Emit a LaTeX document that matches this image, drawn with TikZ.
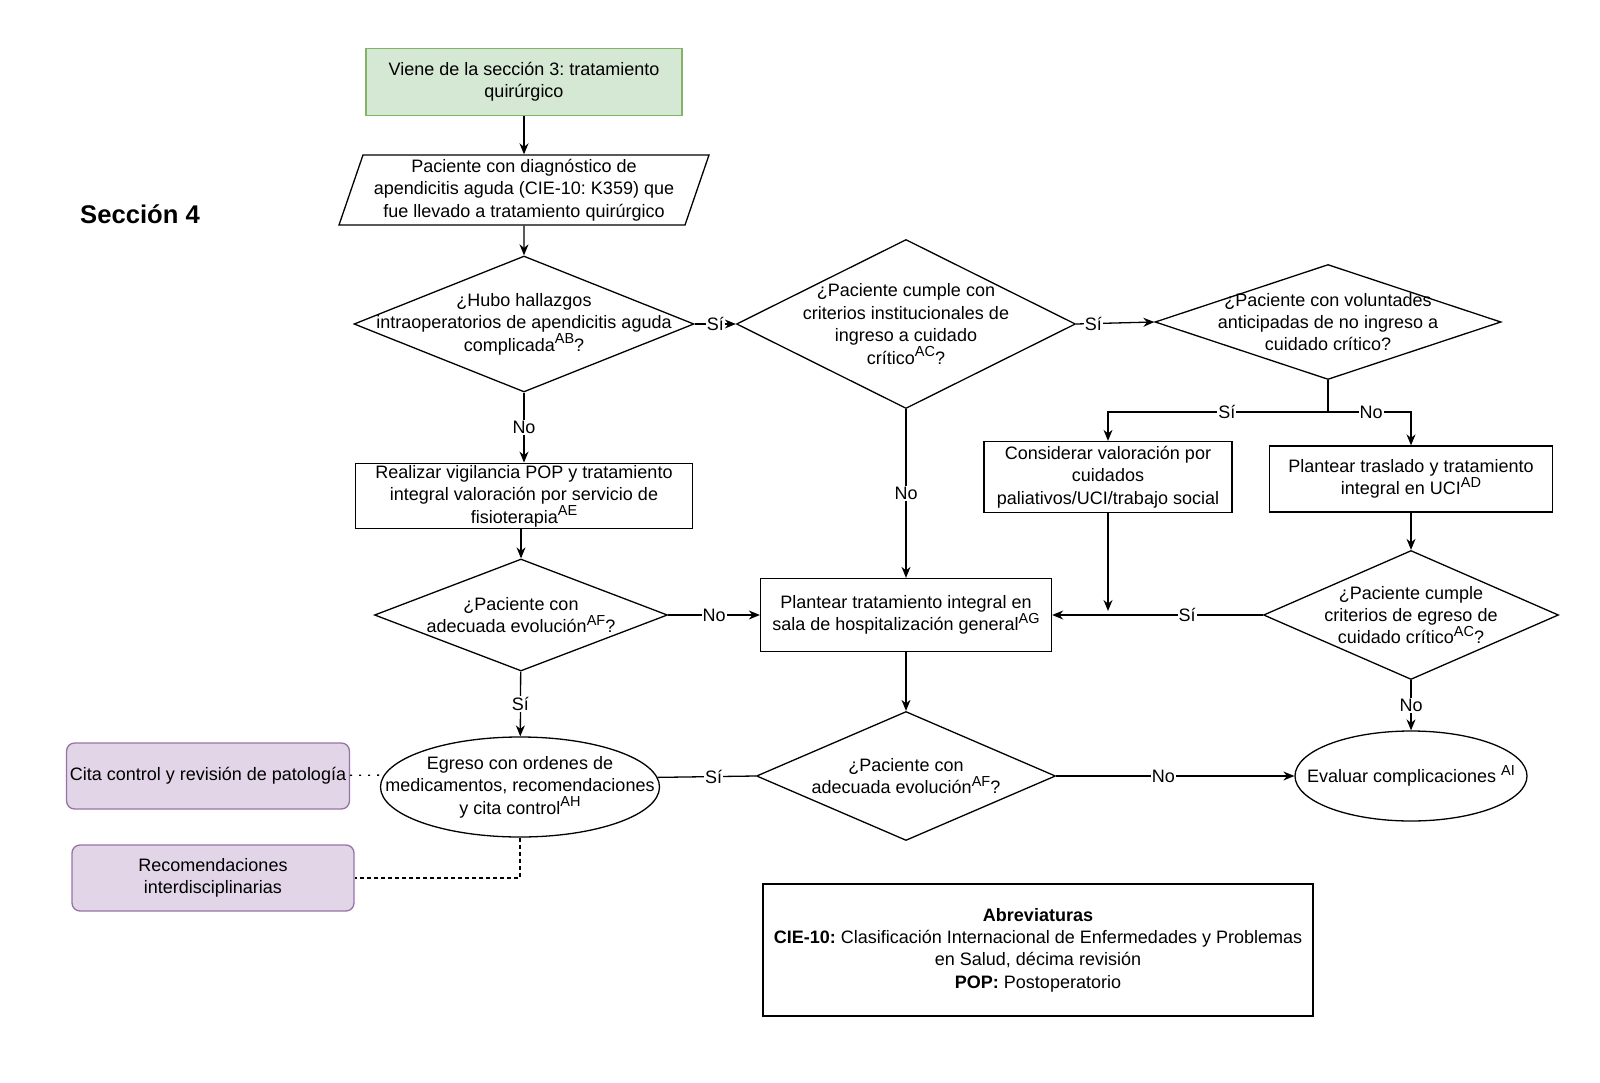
\documentclass[tikz,border=0pt]{standalone}
\usepackage{fontspec}
\setmainfont{Liberation Sans}
\usetikzlibrary{arrows.meta,positioning,shapes.geometric,calc}
\definecolor{verdeF}{HTML}{D5E8D4}
\definecolor{verdeL}{HTML}{82B366}
\definecolor{moradoF}{HTML}{E1D5E7}
\definecolor{moradoL}{HTML}{9673A6}
\newcommand{\supi}[1]{\raisebox{0.42em}{\fontsize{14.5}{14.5}\selectfont #1}}
\frenchspacing

\begin{document}
\begin{tikzpicture}[x=1pt, y=-1pt,
  font=\fontsize{18}{22.4}\selectfont,
  line width=1.3pt,
  obj/.style={draw, align=center, inner sep=2pt},
  dec/.style={draw, diamond, inner sep=0pt, label={[align=center]center:#1}},
  ovl/.style={draw, ellipse, inner sep=0pt, label={[align=center]center:#1}},
  nota/.style={draw=moradoL, fill=moradoF, rounded corners=8pt, align=center, minimum width=282, minimum height=66},
  arr/.style={-{Stealth[length=11pt, width=9pt]}},
  lab/.style={fill=white, inner sep=1pt}]
\useasboundingbox (0,0) rectangle (1600,1083);
% Inicio
\node[obj, fill=verdeF, draw=verdeL, minimum width=316, minimum height=67] (inicio) at (524,82) {Viene de la sección 3: tratamiento\\quirúrgico};
\node[obj, trapezium, trapezium left angle=71, trapezium right angle=109, trapezium stretches=true, minimum width=371, minimum height=70] (pac) at (524,190) {Paciente con diagnóstico de\\apendicitis aguda (CIE-10: K359) que\\fue llevado a tratamiento quirúrgico};
\node[font=\bfseries\fontsize{25.6}{30}\selectfont] (titulo) at (140,214) {Sección 4};
% Decisiones superiores
\node[dec={¿Hubo hallazgos\\intraoperatorios de apendicitis aguda\\complicada\supi{AB}?}, minimum width=340, minimum height=136] (q1) at (524,324) {};
\node[dec={¿Paciente cumple con\\criterios institucionales de\\ingreso a cuidado\\crítico\supi{AC}?}, minimum width=339, minimum height=169] (q2) at (906,324) {};
\node[dec={¿Paciente con voluntades\\anticipadas de no ingreso a\\cuidado crítico?}, minimum width=346, minimum height=115] (q3) at (1328,322) {};
% Ramas
\coordinate (cruce) at (1328,412);
\node[obj, minimum width=248, minimum height=71] (valor) at (1108,477) {Considerar valoración por\\cuidados\\paliativos/UCI/trabajo social};
\node[obj, minimum width=283, minimum height=66] (trasl) at (1411,479) {Plantear traslado y tratamiento\\integral en UCI\supi{AD}};
\node[obj, minimum width=337, minimum height=65] (vigil) at (524,496) {Realizar vigilancia POP y tratamiento\\integral valoración por servicio de\\fisioterapia\supi{AE}};
% Nivel medio
\node[dec={¿Paciente con\\adecuada evolución\supi{AF}?}, minimum width=293, minimum height=112] (q4) at (521,615) {};
\node[obj, minimum width=291, minimum height=73] (hosp) at (906,615) {Plantear tratamiento integral en\\sala de hospitalización general\supi{AG}};
\node[dec={¿Paciente cumple\\criterios de egreso de\\cuidado crítico\supi{AC}?}, minimum width=295, minimum height=129] (q5) at (1411,615) {};
\coordinate (llega) at (1108,611);
% Nivel inferior
\node[ovl={Egreso con ordenes de\\medicamentos, recomendaciones\\y cita control\supi{AH}}, minimum width=279, minimum height=100] (egreso) at (520,787) {};
\node[dec={¿Paciente con\\adecuada evolución\supi{AF}?}, minimum width=299, minimum height=129] (q6) at (906,776) {};
\node[ovl={Evaluar complicaciones \supi{AI}}, minimum width=232, minimum height=90] (eval) at (1411,776) {};
\node[nota] (cita) at (208,776) {Cita control y revisión de patología};
\node[nota] (recom) at (213,878) {Recomendaciones\\interdisciplinarias};
\node[obj, minimum width=550, minimum height=132] (abrev) at (1038,950) {\textbf{Abreviaturas}\\\textbf{CIE-10:} Clasificación Internacional de Enfermedades y Problemas\\en Salud, décima revisión\\\textbf{POP:} Postoperatorio};
% Conectores
\draw[arr] (inicio) -- (pac);
\draw[arr] (pac) -- (q1);
\draw[arr] (q1) -- node[lab]{Sí} (q2);
\draw[arr] (q2.east) -- node[lab, pos=0.22]{Sí} (q3.west);
\draw (q3.south) -- (cruce);
\draw[arr] (cruce) -| node[lab, pos=0.23]{Sí} (valor.north);
\draw[arr] (cruce) -| node[lab, pos=0.26]{No} (trasl.north);
\draw[arr] (q1) -- node[lab]{No} (vigil);
\draw[arr] (q2) -- node[lab]{No} (hosp);
\draw[arr] (vigil.south -| q4.north) -- (q4.north);
\draw[arr] (trasl) -- (q5);
\draw[arr] (q4) -- node[lab]{No} (hosp);
\draw[arr] (q5) -- node[lab, pos=0.36]{Sí} (hosp);
\draw[arr] (valor) -- (llega);
\draw[arr] (hosp) -- (q6);
\draw[arr] (q4) -- node[lab]{Sí} (egreso);
\draw (q6.west) -- node[lab, pos=0.43]{Sí} (egreso.4.6);
\draw[arr] (q6) -- node[lab, pos=0.45]{No} (eval);
\draw[arr] (q5) -- node[lab]{No} (eval);
\draw[dash pattern=on 2pt off 7pt] (cita) -- (egreso.175.4);
\draw[dash pattern=on 4pt off 3pt] (egreso.south) |- (recom.east);
\end{tikzpicture}
\end{document}
